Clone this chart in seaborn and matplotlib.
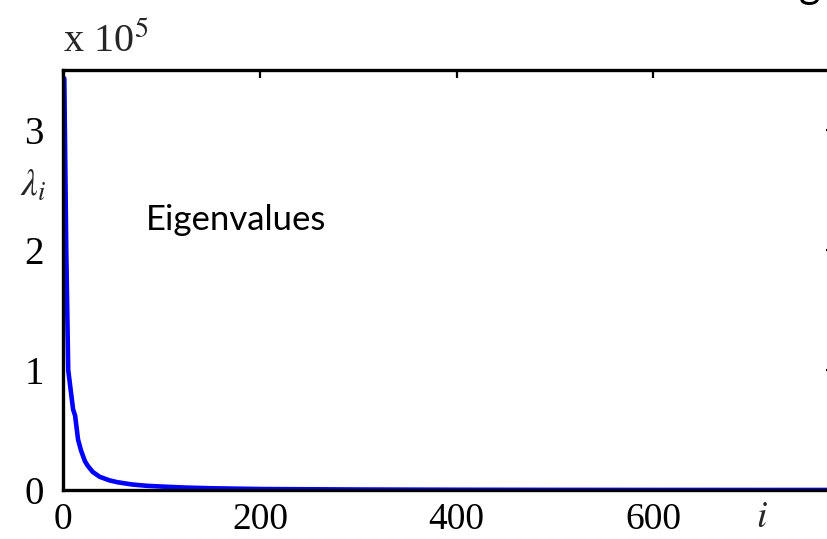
import matplotlib
matplotlib.use("Agg")
import matplotlib.pyplot as plt
import seaborn as sns
import pandas as pd

# Eigenvalue index and eigenvalues (in units of 1e5)
idx = [1, 3, 5, 8, 10, 12, 15, 18, 22, 25, 30, 37, 47, 55, 65, 71, 85, 102,
       125, 153, 203, 300, 400, 500, 600, 700, 784]
lam = [3.43, 2.0, 1.0, 0.80, 0.67, 0.62, 0.42, 0.33, 0.24, 0.20, 0.15, 0.11,
       0.08, 0.065, 0.052, 0.045, 0.035, 0.028, 0.02, 0.014, 0.008, 0.004,
       0.002, 0.001, 0.0005, 0.0003, 0.0002]
xticks = [0, 200, 400, 600]
yticks = [0, 1, 2, 3]

sns.set_theme(style="white")
plt.rcParams["font.family"] = ["Liberation Serif", "DejaVu Serif"]
plt.rcParams["mathtext.fontset"] = "stix"

df = pd.DataFrame({"i": idx, "lam": lam})

fig = plt.figure(figsize=(8.28, 5.39), dpi=100)
ax = fig.add_axes([63.3 / 828, 49 / 539, 771 / 828, 420 / 539])
sns.lineplot(data=df, x="i", y="lam", ax=ax, color="#0000ff", linewidth=3.3)

ax.set_xlim(0, 784)
ax.set_ylim(0, 3.5)
ax.set_xticks(xticks)
ax.set_yticks(yticks)
ax.set_xticklabels([str(t) for t in xticks])
ax.set_yticklabels([str(t) for t in yticks])
ax.tick_params(direction="in", length=6, width=1.6, colors="black",
               labelsize=28, top=True, right=True)
ax.tick_params(axis="x", labelsize=27, pad=9)
ax.tick_params(axis="y", pad=14)
for s in ax.spines.values():
    s.set_visible(True)
    s.set_color("black")
    s.set_linewidth(2.4)
ax.set_xlabel("")
ax.set_ylabel("")

fig.text(63 / 828, 1 - 52 / 539, r"x 10$^5$", fontsize=29, ha="left",
         va="baseline", family=["Liberation Serif"])
fig.text(33 / 828, 1 - 186 / 539, r"$\lambda_i$", fontsize=27, ha="center",
         va="center")
fig.text(762 / 828, 1 - 518 / 539, r"$i$", fontsize=27, ha="center",
         va="center")
fig.text(146 / 828, 1 - 230 / 539, "Eigenvalues", fontsize=25, ha="left",
         va="baseline", color="black", family=["Lato", "DejaVu Sans"])
# descender of a title that lies above the visible canvas
fig.text(810 / 828, 1 + 2 / 539, "g", fontsize=30, ha="center",
         va="baseline", color="black", family=["Lato", "DejaVu Sans"])

fig.savefig("out.png", dpi=100)
